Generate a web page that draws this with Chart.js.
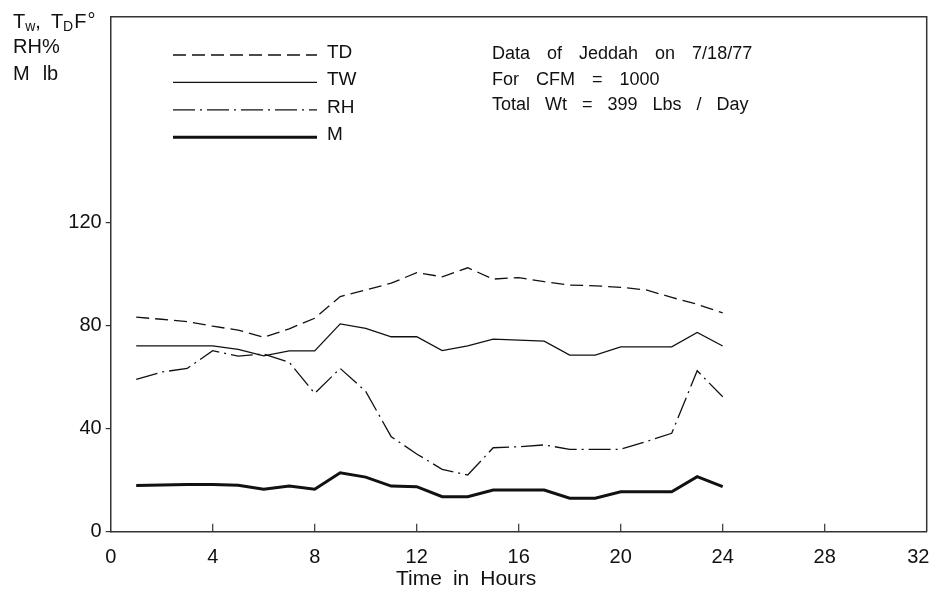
<!DOCTYPE html>
<html>
<head>
<meta charset="utf-8">
<script src="https://cdn.jsdelivr.net/npm/chart.js@4.4.1/dist/chart.umd.min.js"></script>
<style>
  html, body { margin: 0; padding: 0; background: #fff; }
  canvas { display: block; }
</style>
</head>
<body>
<canvas id="myChart" width="936" height="591"></canvas>
<script>
// hourly readings, Jeddah 7/18/77
var hours = [1, 2, 3, 4, 5, 6, 7, 8, 9, 10, 11, 12, 13, 14, 15, 16, 17, 18, 19, 20, 21, 22, 23, 24];
var tdValues = [83.3, 82.5, 81.6, 79.8, 78.3, 75.5, 78.8, 82.9, 91.3, 93.9, 96.5, 100.6, 99.0, 102.5, 98.1, 98.7, 97.1, 95.8, 95.5, 94.9, 93.9, 91.0, 88.3, 85.0];
var twValues = [72.2, 72.2, 72.2, 72.2, 70.8, 68.3, 70.2, 70.2, 80.7, 79.0, 75.7, 75.7, 70.3, 72.2, 74.8, 74.4, 74.0, 68.6, 68.6, 71.8, 71.8, 71.8, 77.4, 72.1];
var rhValues = [59.2, 62.0, 63.4, 70.3, 68.2, 69.0, 65.8, 53.7, 63.4, 54.5, 36.9, 30.2, 24.2, 22.0, 32.6, 33.0, 33.7, 32.0, 32.0, 32.0, 35.0, 38.2, 62.5, 52.4];
var mValues = [17.9, 18.1, 18.3, 18.3, 18.0, 16.5, 17.7, 16.5, 22.9, 21.2, 17.7, 17.5, 13.6, 13.6, 16.2, 16.2, 16.2, 13.0, 13.0, 15.5, 15.5, 15.5, 21.4, 17.5];

var xTicks = [0, 4, 8, 12, 16, 20, 24, 28, 32];
var yTicks = [0, 40, 80, 120];
var notes = ['Data of Jeddah on 7/18/77', 'For CFM = 1000', 'Total Wt = 399 Lbs / Day'];

var FONT = '"Liberation Sans", Arial, Helvetica, sans-serif';
var INK = '#111';

function pts(vals) {
  return hours.map(function (h, i) { return { x: h, y: vals[i] }; });
}

// draw words one by one so the wide gaps of the original survive
function spacedText(ctx, text, x, y, gap) {
  text.split(' ').forEach(function (w) {
    ctx.fillText(w, x, y);
    x += ctx.measureText(w).width + gap;
  });
}

var decor = {
  id: 'decor',
  afterDraw: function (chart) {
    var ctx = chart.ctx, a = chart.chartArea;
    var xs = chart.scales.x;
    ctx.save();

    // top and right side of the frame
    ctx.strokeStyle = '#333';
    ctx.lineWidth = 1.5;
    ctx.beginPath();
    ctx.moveTo(a.left, a.top);
    ctx.lineTo(a.right, a.top);
    ctx.lineTo(a.right, a.bottom);
    ctx.stroke();

    // x ticks point inward
    ctx.lineWidth = 1.2;
    xTicks.slice(1, -1).forEach(function (v) {
      var px = xs.getPixelForValue(v);
      ctx.beginPath();
      ctx.moveTo(px, a.bottom);
      ctx.lineTo(px, a.bottom - 8);
      ctx.stroke();
    });

    // legend
    ctx.fillStyle = INK;
    ctx.font = '19px ' + FONT;
    ctx.textBaseline = 'alphabetic';
    chart.data.datasets.forEach(function (ds, i) {
      var y = 55 + i * 27.4;
      ctx.strokeStyle = ds.borderColor;
      ctx.lineWidth = ds.borderWidth;
      ctx.setLineDash(ds.borderDash || []);
      ctx.beginPath();
      ctx.moveTo(173, y);
      ctx.lineTo(317, y);
      ctx.stroke();
      ctx.setLineDash([]);
      ctx.fillText(ds.label, 327, y + 3);
    });

    // notes
    ctx.font = '18px ' + FONT;
    notes.forEach(function (t, i) {
      spacedText(ctx, t, 492, 59 + i * 25.5, i === 2 ? 15 : 17);
    });

    // y axis title, top left
    var x = 13;
    ctx.font = '20px ' + FONT;
    ctx.fillText('T', x, 28); x += ctx.measureText('T').width;
    ctx.font = '14px ' + FONT;
    ctx.fillText('w', x, 31); x += ctx.measureText('w').width;
    ctx.font = '20px ' + FONT;
    ctx.fillText(',', x, 28); x += ctx.measureText(',').width + 10;
    ctx.fillText('T', x, 28); x += ctx.measureText('T').width;
    ctx.font = '14px ' + FONT;
    ctx.fillText('D', x, 31); x += ctx.measureText('D').width + 1;
    ctx.font = '20px ' + FONT;
    ctx.fillText('F', x, 28); x += ctx.measureText('F').width + 1;
    ctx.fillText('\u00b0', x, 27);
    ctx.fillText('RH%', 13, 53);
    spacedText(ctx, 'M lb', 13, 80, 13);

    // x axis title
    ctx.font = '21px ' + FONT;
    spacedText(ctx, 'Time in Hours', 396, 585, 11);

    ctx.restore();
  }
};

var ctx = document.getElementById('myChart').getContext('2d');
var myChart = new Chart(ctx, {
  type: 'line',
  data: {
    datasets: [
      { label: 'TD', data: pts(tdValues), borderColor: INK, borderWidth: 1.3, borderDash: [13, 6] },
      { label: 'TW', data: pts(twValues), borderColor: INK, borderWidth: 1.3 },
      { label: 'RH', data: pts(rhValues), borderColor: INK, borderWidth: 1.3, borderDash: [22, 5, 2, 5] },
      { label: 'M', data: pts(mValues), borderColor: INK, borderWidth: 3 }
    ]
  },
  options: {
    responsive: false,
    animation: false,
    devicePixelRatio: 1,
    elements: {
      point: { radius: 0 },
      line: { tension: 0, fill: false }
    },
    layout: { padding: { left: 0, right: 9.3, top: 16.7, bottom: 0 } },
    plugins: {
      legend: { display: false },
      title: { display: false },
      tooltip: { enabled: false }
    },
    scales: {
      x: {
        type: 'linear',
        min: 0,
        max: 32,
        afterBuildTicks: function (s) { s.ticks = xTicks.map(function (v) { return { value: v }; }); },
        afterFit: function (s) { s.height = 59.3; s.paddingLeft = 0; s.paddingRight = 0; },
        grid: { display: false },
        border: { display: true, color: '#333', width: 1.5 },
        ticks: {
          color: INK, font: { family: FONT, size: 20 }, padding: 6, maxRotation: 0, autoSkip: false,
          // last label sits a little to the left of its tick, as in the original
          callback: function (v) { return v === 32 ? v + '   ' : String(v); }
        }
      },
      y: {
        min: 0,
        max: 200,
        afterBuildTicks: function (s) { s.ticks = yTicks.map(function (v) { return { value: v }; }); },
        afterFit: function (s) { s.width = 110.7; s.paddingTop = 0; s.paddingBottom = 0; },
        grid: { display: true, drawOnChartArea: false, drawTicks: true, tickLength: 5, color: '#333', lineWidth: 1.2 },
        border: { display: true, color: '#333', width: 1.5 },
        ticks: { color: INK, font: { family: FONT, size: 20 }, padding: 4 }
      }
    }
  },
  plugins: [decor]
});
</script>
</body>
</html>
